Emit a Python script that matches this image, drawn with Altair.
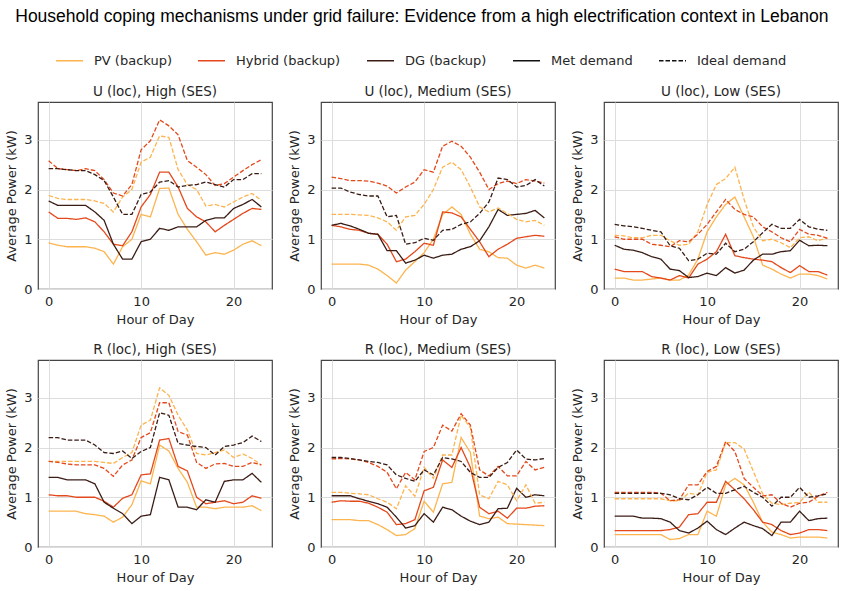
import altair as alt
import pandas as pd

hours = list(range(24))

panel_titles = [
    "U (loc), High (SES)", "U (loc), Medium (SES)", "U (loc), Low (SES)",
    "R (loc), High (SES)", "R (loc), Medium (SES)", "R (loc), Low (SES)",
]

# ---- U (loc), High (SES)
uh_pv_met = [0.93, 0.88, 0.85, 0.85, 0.85, 0.82, 0.75, 0.50, 0.85, 1.00, 1.50, 1.45, 2.02, 2.03, 1.50, 1.20, 0.95, 0.68, 0.73, 0.70, 0.78, 0.90, 0.97, 0.87]
uh_hy_met = [1.55, 1.42, 1.42, 1.40, 1.43, 1.35, 1.15, 0.90, 0.87, 1.15, 1.65, 1.90, 2.35, 2.35, 2.05, 1.62, 1.45, 1.35, 1.15, 1.28, 1.40, 1.52, 1.62, 1.60]
uh_dg_met = [1.77, 1.68, 1.68, 1.68, 1.68, 1.55, 1.38, 0.90, 0.60, 0.60, 0.95, 1.00, 1.22, 1.18, 1.25, 1.25, 1.25, 1.38, 1.43, 1.43, 1.62, 1.70, 1.80, 1.65]
uh_pv_ideal = [1.88, 1.82, 1.80, 1.80, 1.80, 1.77, 1.72, 1.55, 1.85, 2.00, 2.55, 2.65, 3.08, 3.05, 2.40, 2.10, 2.00, 1.67, 1.70, 1.65, 1.75, 1.85, 1.92, 1.78]
uh_hy_ideal = [2.58, 2.42, 2.40, 2.38, 2.42, 2.38, 2.20, 1.93, 1.87, 2.10, 2.80, 2.98, 3.40, 3.28, 3.10, 2.58, 2.45, 2.30, 2.08, 2.12, 2.25, 2.38, 2.50, 2.60]
uh_dg_ideal = [2.42, 2.42, 2.40, 2.38, 2.38, 2.30, 2.18, 1.85, 1.50, 1.50, 1.90, 1.95, 2.15, 2.18, 2.05, 2.08, 2.10, 2.15, 2.10, 2.05, 2.20, 2.20, 2.32, 2.32]

# ---- U (loc), Medium (SES)
um_pv_met = [0.50, 0.50, 0.50, 0.50, 0.48, 0.40, 0.27, 0.12, 0.38, 0.55, 0.73, 1.00, 1.50, 1.65, 1.50, 1.10, 0.80, 0.75, 0.63, 0.62, 0.48, 0.42, 0.48, 0.42]
um_hy_met = [1.28, 1.25, 1.20, 1.18, 1.12, 1.10, 0.90, 0.55, 0.60, 0.75, 0.92, 0.88, 1.55, 1.53, 1.45, 1.20, 0.95, 0.65, 0.80, 0.90, 1.02, 1.05, 1.08, 1.06]
um_dg_met = [1.28, 1.32, 1.27, 1.20, 1.12, 1.10, 0.77, 0.77, 0.52, 0.58, 0.68, 0.62, 0.68, 0.70, 0.80, 0.85, 0.97, 1.25, 1.60, 1.48, 1.50, 1.52, 1.58, 1.43]
um_pv_ideal = [1.50, 1.50, 1.50, 1.49, 1.48, 1.43, 1.35, 1.18, 1.45, 1.48, 1.70, 2.00, 2.45, 2.55, 2.40, 2.05, 1.65, 1.55, 1.63, 1.52, 1.40, 1.35, 1.38, 1.28]
um_hy_ideal = [2.25, 2.22, 2.18, 2.18, 2.17, 2.13, 2.07, 1.93, 2.05, 2.15, 2.40, 2.35, 2.87, 2.97, 2.87, 2.65, 2.35, 2.00, 2.12, 2.17, 2.12, 2.20, 2.17, 2.13]
um_dg_ideal = [2.03, 2.03, 1.95, 1.90, 1.87, 1.87, 1.45, 1.48, 0.90, 0.93, 1.02, 0.98, 1.18, 1.20, 1.30, 1.35, 1.52, 1.75, 2.23, 2.20, 2.05, 2.08, 2.20, 2.07]

# ---- U (loc), Low (SES)
ul_pv_met = [0.22, 0.22, 0.18, 0.18, 0.20, 0.22, 0.18, 0.18, 0.28, 0.60, 1.15, 1.45, 1.70, 1.85, 1.45, 1.05, 0.48, 0.40, 0.30, 0.22, 0.30, 0.30, 0.27, 0.20]
ul_hy_met = [0.40, 0.35, 0.35, 0.35, 0.25, 0.22, 0.18, 0.27, 0.22, 0.50, 0.60, 0.75, 1.10, 0.67, 0.63, 0.60, 0.58, 0.55, 0.43, 0.33, 0.47, 0.35, 0.35, 0.28]
ul_dg_met = [0.88, 0.80, 0.78, 0.73, 0.65, 0.60, 0.40, 0.37, 0.23, 0.25, 0.32, 0.27, 0.43, 0.32, 0.38, 0.58, 0.70, 0.70, 0.75, 0.77, 0.98, 0.87, 0.88, 0.87]
ul_pv_ideal = [1.08, 1.07, 1.03, 1.03, 1.08, 1.08, 0.97, 0.88, 0.90, 1.15, 1.70, 2.10, 2.22, 2.45, 1.80, 1.25, 0.97, 1.00, 0.93, 0.83, 1.03, 1.05, 0.97, 1.03]
ul_hy_ideal = [1.05, 1.00, 1.00, 1.00, 0.90, 0.88, 0.85, 0.97, 0.95, 1.10, 1.30, 1.55, 1.80, 1.60, 1.50, 1.45, 1.25, 1.15, 1.03, 0.95, 1.20, 1.10, 1.08, 1.02]
ul_dg_ideal = [1.30, 1.27, 1.25, 1.22, 1.18, 1.15, 0.87, 0.82, 0.57, 0.60, 0.72, 0.70, 0.92, 0.75, 0.80, 0.95, 1.13, 1.30, 1.22, 1.22, 1.40, 1.25, 1.20, 1.18]

# ---- R (loc), High (SES)
rh_pv_met = [0.72, 0.72, 0.72, 0.72, 0.67, 0.65, 0.62, 0.50, 0.60, 0.85, 1.33, 1.27, 2.05, 1.93, 1.58, 1.30, 0.80, 0.80, 0.77, 0.80, 0.80, 0.80, 0.83, 0.73]
rh_hy_met = [1.05, 1.03, 1.03, 1.00, 1.00, 1.00, 0.92, 0.80, 0.98, 1.05, 1.45, 1.47, 2.15, 2.18, 1.62, 1.53, 1.00, 0.87, 0.90, 0.93, 0.87, 0.90, 1.03, 0.98]
rh_dg_met = [1.40, 1.40, 1.35, 1.35, 1.35, 1.27, 0.90, 0.78, 0.67, 0.47, 0.62, 0.65, 1.40, 1.35, 0.80, 0.80, 0.75, 0.95, 0.90, 1.32, 1.35, 1.35, 1.48, 1.30]
rh_pv_ideal = [1.72, 1.72, 1.72, 1.72, 1.72, 1.72, 1.70, 1.68, 1.80, 1.90, 2.45, 2.55, 3.20, 3.05, 2.65, 2.35, 1.88, 1.85, 1.90, 1.95, 1.80, 1.87, 1.78, 1.65]
rh_hy_ideal = [1.72, 1.70, 1.67, 1.65, 1.65, 1.65, 1.58, 1.42, 1.65, 1.75, 2.20, 2.30, 2.90, 2.90, 2.32, 2.25, 1.70, 1.58, 1.67, 1.68, 1.62, 1.62, 1.70, 1.65]
rh_dg_ideal = [2.20, 2.20, 2.15, 2.15, 2.15, 2.05, 1.90, 1.88, 1.93, 1.78, 1.92, 2.00, 2.70, 2.65, 2.08, 2.05, 2.02, 2.00, 1.85, 2.02, 2.05, 2.10, 2.23, 2.12]

# ---- R (loc), Medium (SES)
rm_pv_met = [0.55, 0.55, 0.55, 0.53, 0.53, 0.45, 0.35, 0.23, 0.25, 0.37, 0.92, 0.70, 1.27, 1.30, 2.20, 1.90, 0.62, 0.57, 0.60, 0.47, 0.46, 0.45, 0.44, 0.43]
rm_hy_met = [0.90, 0.93, 0.92, 0.92, 0.88, 0.80, 0.70, 0.45, 0.47, 0.55, 1.13, 1.20, 1.75, 1.60, 2.00, 1.60, 0.80, 0.67, 0.72, 0.58, 0.78, 0.78, 0.82, 0.83]
rm_dg_met = [1.03, 1.03, 1.03, 0.97, 0.92, 0.87, 0.80, 0.60, 0.38, 0.43, 0.67, 0.50, 0.80, 0.75, 0.62, 0.52, 0.45, 0.50, 0.77, 0.78, 1.18, 1.00, 1.05, 1.03]
rm_pv_ideal = [1.10, 1.10, 1.08, 1.07, 1.05, 0.97, 0.90, 0.77, 1.23, 1.02, 1.60, 1.38, 1.85, 1.85, 2.65, 2.40, 1.05, 0.97, 1.32, 1.25, 0.93, 1.25, 0.88, 0.90]
rm_hy_ideal = [1.77, 1.78, 1.77, 1.75, 1.70, 1.62, 1.50, 1.17, 1.50, 1.35, 1.92, 2.00, 2.45, 2.33, 2.68, 2.45, 1.55, 1.43, 1.62, 1.43, 1.43, 1.72, 1.55, 1.60]
rm_dg_ideal = [1.80, 1.80, 1.78, 1.75, 1.72, 1.70, 1.65, 1.45, 1.38, 1.32, 1.55, 1.45, 1.80, 1.77, 1.72, 1.50, 1.40, 1.40, 1.60, 1.70, 1.95, 1.77, 1.75, 1.78]

# ---- R (loc), Low (SES)
rl_pv_met = [0.25, 0.25, 0.25, 0.25, 0.25, 0.25, 0.15, 0.17, 0.25, 0.25, 0.72, 0.62, 1.25, 1.38, 1.25, 0.90, 0.50, 0.30, 0.25, 0.18, 0.20, 0.20, 0.20, 0.18]
rl_hy_met = [0.33, 0.33, 0.33, 0.33, 0.33, 0.33, 0.35, 0.40, 0.65, 0.67, 0.90, 0.90, 1.32, 1.15, 0.97, 0.75, 0.50, 0.45, 0.33, 0.25, 0.28, 0.35, 0.35, 0.33]
rl_dg_met = [0.62, 0.62, 0.62, 0.58, 0.58, 0.57, 0.50, 0.33, 0.28, 0.38, 0.52, 0.35, 0.25, 0.38, 0.50, 0.43, 0.37, 0.23, 0.50, 0.50, 0.72, 0.53, 0.57, 0.58]
rl_pv_ideal = [0.97, 0.97, 0.97, 0.97, 0.97, 0.97, 0.93, 0.93, 1.08, 1.05, 1.50, 1.55, 2.10, 2.10, 1.97, 1.52, 1.07, 0.88, 0.85, 0.88, 0.90, 1.10, 0.90, 0.90]
rl_hy_ideal = [1.10, 1.10, 1.10, 1.10, 1.10, 1.08, 0.93, 0.95, 1.25, 1.25, 1.52, 1.62, 2.12, 1.92, 1.38, 1.20, 1.03, 1.05, 0.88, 0.80, 0.88, 0.90, 1.02, 1.10]
rl_dg_ideal = [1.08, 1.08, 1.08, 1.08, 1.08, 1.08, 1.05, 0.97, 0.95, 1.05, 1.20, 1.08, 1.08, 1.15, 1.22, 1.10, 1.00, 0.82, 1.00, 1.00, 1.20, 1.00, 1.03, 1.07]

# legend / style keys
keys = ["PV (backup)", "Hybrid (backup)", "DG (backup)", "Met demand", "Ideal demand",
        "PV ideal", "Hybrid ideal", "DG ideal"]
legend_keys = keys[:5]
key_colors = ["#FDB44E", "#E4491C", "#3A1C15", "#111111", "#111111",
              "#FDB44E", "#E4491C", "#3A1C15"]
key_dashes = [[1, 0], [1, 0], [1, 0], [1, 0], [4.5, 2], [4.5, 2], [4.5, 2], [4.5, 2]]

panel_series = [
    [uh_pv_met, uh_hy_met, uh_dg_met, uh_pv_ideal, uh_hy_ideal, uh_dg_ideal],
    [um_pv_met, um_hy_met, um_dg_met, um_pv_ideal, um_hy_ideal, um_dg_ideal],
    [ul_pv_met, ul_hy_met, ul_dg_met, ul_pv_ideal, ul_hy_ideal, ul_dg_ideal],
    [rh_pv_met, rh_hy_met, rh_dg_met, rh_pv_ideal, rh_hy_ideal, rh_dg_ideal],
    [rm_pv_met, rm_hy_met, rm_dg_met, rm_pv_ideal, rm_hy_ideal, rm_dg_ideal],
    [rl_pv_met, rl_hy_met, rl_dg_met, rl_pv_ideal, rl_hy_ideal, rl_dg_ideal],
]
series_keys = ["PV (backup)", "Hybrid (backup)", "DG (backup)", "PV ideal", "Hybrid ideal", "DG ideal"]

text_color = "#262626"
FONT = "DejaVu Sans"


def panel(idx):
    rows = []
    for key, vals in zip(series_keys, panel_series[idx]):
        for h, v in zip(hours, vals):
            rows.append({"hour": h, "value": v, "key": key})
    df = pd.DataFrame(rows)
    return (
        alt.Chart(df)
        .mark_line(strokeWidth=1.3, clip=True)
        .encode(
            x=alt.X("hour:Q",
                    scale=alt.Scale(domain=[-1.15, 24.15], nice=False, zero=False),
                    axis=alt.Axis(values=[0, 10, 20], title="Hour of Day", format="d")),
            y=alt.Y("value:Q",
                    scale=alt.Scale(domain=[0, 3.76], nice=False),
                    axis=alt.Axis(values=[0, 1, 2, 3], title="Average Power (kW)", format="d")),
            color=alt.Color("key:N",
                            scale=alt.Scale(domain=keys, range=key_colors),
                            legend=alt.Legend(values=legend_keys, title=None)),
            strokeDash=alt.StrokeDash("key:N",
                                      scale=alt.Scale(domain=keys, range=key_dashes),
                                      legend=alt.Legend(values=legend_keys, title=None)),
        )
        .properties(
            width=234, height=187,
            title=alt.TitleParams(panel_titles[idx], fontSize=13.5, font=FONT,
                                  fontWeight="normal", color=text_color, offset=4),
        )
    )


row1 = alt.hconcat(panel(0), panel(1), panel(2), spacing=15)
row2 = alt.hconcat(panel(3), panel(4), panel(5), spacing=15)

chart = (
    alt.vconcat(row1, row2, spacing=14)
    .properties(
        title=alt.TitleParams(
            "Household coping mechanisms under grid failure: Evidence from a high electrification context in Lebanon",
            font="Liberation Sans", fontSize=17.5, fontWeight="normal",
            color="#000000", anchor="middle", offset=21),
        padding={"left": 5, "top": 7, "right": 5, "bottom": 3},
        background="white",
    )
    .configure_view(stroke="#444444", strokeWidth=1.2)
    .configure_axis(
        grid=True, gridColor="#dddddd", gridWidth=1, domain=False, ticks=False,
        labelFont=FONT, labelFontSize=13, labelColor=text_color, labelPadding=6,
        titleFont=FONT, titleFontSize=13, titleColor=text_color, titleFontWeight="normal",
        titlePadding=5,
    )
    .configure_legend(
        orient="none", legendX=17, legendY=-56, direction="horizontal", columns=5,
        symbolType="stroke", symbolSize=729, symbolStrokeWidth=1.6,
        labelFont=FONT, labelFontSize=13, labelColor=text_color,
        labelOffset=10, columnPadding=22, symbolOffset=0, padding=0,
    )
)

chart.save("out.html", embed_options={"renderer": "svg", "actions": False})
